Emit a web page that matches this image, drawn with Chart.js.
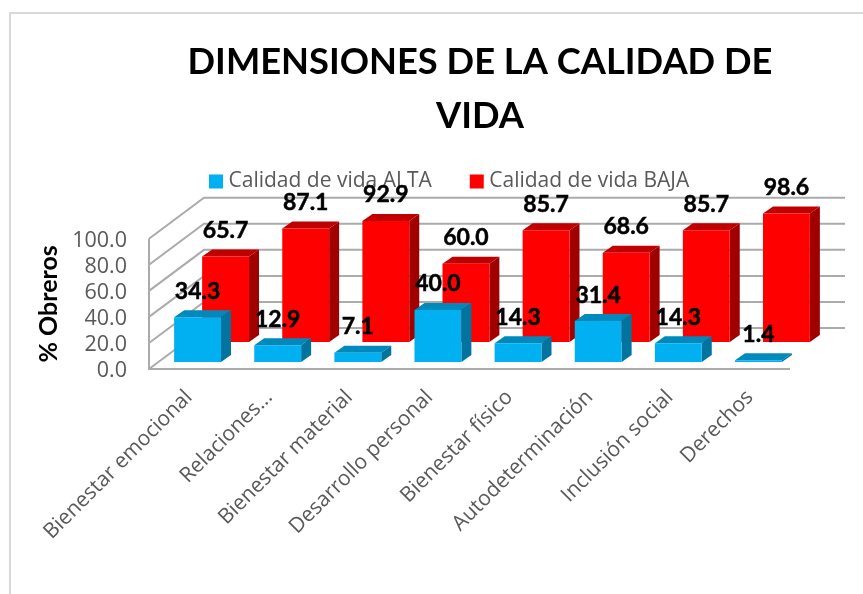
<!DOCTYPE html>
<html><head><meta charset="utf-8">
<style>html,body{margin:0;padding:0;background:#fff;overflow:hidden}
#wrap{position:absolute;left:0;top:0;width:863px;height:594px}
#frame{position:absolute;left:9px;top:12px;right:0;bottom:-4px;border-left:2px solid #D9D9D9;border-top:2px solid #D9D9D9}
canvas{position:absolute;left:0;top:0;filter:blur(0.4px)}</style>
<script src="https://cdn.jsdelivr.net/npm/chart.js@4/dist/chart.umd.js"></script>
</head><body><div id="wrap"><div id="frame"></div><canvas id="c" width="863" height="594"></canvas></div>
<script>
const categories=["Bienestar emocional","Relaciones...","Bienestar material","Desarrollo personal","Bienestar físico","Autodeterminación","Inclusión social","Derechos"];
const altaValues=[34.3,12.9,7.1,40.0,14.3,31.4,14.3,1.4];
const bajaValues=[65.7,87.1,92.9,60.0,85.7,68.6,85.7,98.6];
const titleLines=["DIMENSIONES DE LA CALIDAD DE","VIDA"];
const yTicks=[0,20,40,60,80,100];
const DEPTH={x:55,y:-41};
const OFFS=[{x:8.5,y:-7},{x:36.5,y:-27}];
const FACE={x:10,y:-7};
const SHADES=[{top:'#0089BB',side:'#00739E'},{top:'#C00000',side:'#A00000'}];

const threeD={
 id:'threeD',
 afterLayout(chart){
  const t=chart.titleBlock,l=chart.legend;
  if(t){const w=t.right-t.left,h=t.bottom-t.top;t.left=480-w/2;t.right=t.left+w;t.top=36;t.bottom=t.top+h;}
  if(l){const w=l.right-l.left,h=l.bottom-l.top;l.left=171;l.right=l.left+w;l.top=128;l.bottom=l.top+h;l.adjustHitBoxes&&l.adjustHitBoxes();}
 },
 beforeDatasetsDraw(chart){
  const {ctx,chartArea:a,scales:{y}}=chart;
  ctx.save();ctx.strokeStyle='#ABABAB';ctx.lineWidth=2;
  yTicks.forEach(v=>{
   const py=y.getPixelForValue(v);
   ctx.beginPath();ctx.moveTo(a.left,py);ctx.lineTo(a.left+DEPTH.x,py+DEPTH.y);
   ctx.lineTo(a.right+DEPTH.x,py+DEPTH.y);ctx.stroke();
  });
  ctx.beginPath();ctx.moveTo(a.left,y.getPixelForValue(100));ctx.lineTo(a.left,y.getPixelForValue(0));
  ctx.lineTo(a.right,y.getPixelForValue(0));ctx.stroke();
  ctx.restore();
 },
 beforeDatasetDraw(chart,{index}){
  const {ctx}=chart,o=OFFS[index],s=SHADES[index];
  ctx.save();ctx.translate(o.x,o.y);
  chart.getDatasetMeta(index).data.forEach(b=>{
   const {x,y,base,width}=b.getProps(['x','y','base','width']);
   const l=x-width/2,r=x+width/2;
   ctx.fillStyle=s.top;ctx.beginPath();ctx.moveTo(l,y);ctx.lineTo(l+FACE.x,y+FACE.y);ctx.lineTo(r+FACE.x,y+FACE.y);ctx.lineTo(r,y);ctx.closePath();ctx.fill();
   ctx.fillStyle=s.side;ctx.beginPath();ctx.moveTo(r,y);ctx.lineTo(r+FACE.x,y+FACE.y);ctx.lineTo(r+FACE.x,base+FACE.y);ctx.lineTo(r,base);ctx.closePath();ctx.fill();
  });
 },
 afterDatasetDraw(chart){chart.ctx.restore();},
 afterDatasetsDraw(chart){
  const {ctx}=chart;
  ctx.save();ctx.font='bold 23px Lato';ctx.fillStyle='#000';ctx.strokeStyle='#000';ctx.lineWidth=0.5;ctx.textAlign='center';ctx.textBaseline='middle';
  [1,0].forEach(i=>{
   const o=OFFS[i],vals=chart.data.datasets[i].data;
   chart.getDatasetMeta(i).data.forEach((b,k)=>{
    const s=vals[k].toFixed(1),px=b.x+o.x,py=b.y+o.y-26;
    ctx.fillText(s,px,py);ctx.strokeText(s,px,py);
   });
  });
  ctx.restore();
 }
};

new Chart(document.getElementById('c'),{
 type:'bar',
 data:{labels:categories,datasets:[
  {label:'Calidad de vida ALTA',data:altaValues,backgroundColor:'#00B0F0',grouped:false,barPercentage:0.585,categoryPercentage:1},
  {label:'Calidad de vida BAJA',data:bajaValues,backgroundColor:'#FF0000',grouped:false,barPercentage:0.585,categoryPercentage:1}
 ]},
 plugins:[threeD],
 options:{
  responsive:false,animation:false,
  layout:{padding:{left:34,right:73,top:0,bottom:0}},
  plugins:{
   title:{display:true,text:titleLines,color:'#000',font:{family:'Lato',weight:'bold',size:36.3,lineHeight:1.47},padding:{top:0,bottom:58}},
   legend:{display:true,position:'top',align:'start',
    labels:{boxWidth:4,boxHeight:4,padding:43,color:'#595959',font:{family:'Open Sans',size:21},
     generateLabels(chart){
      return Chart.defaults.plugins.legend.labels.generateLabels(chart).map(it=>({...it,strokeStyle:it.fillStyle,lineWidth:10}));
     }}},
   tooltip:{enabled:false}
  },
  scales:{
   x:{grid:{display:false},border:{display:false},
      ticks:{color:'#595959',font:{family:'Open Sans',size:21},maxRotation:45,minRotation:45,autoSkip:false,padding:8},
      afterFit(s){s.height=225;}},
   y:{min:0,max:100,grid:{display:false},border:{display:false},
      afterBuildTicks(s){s.ticks=yTicks.map(v=>({value:v}));},
      afterFit(s){s.width=115;},
      title:{display:true,text:'% Obreros',color:'#000',font:{family:'Lato',weight:'bold',size:25},padding:{top:0,bottom:0}},
      ticks:{color:'#595959',font:{family:'Open Sans',size:21.5},padding:14,autoSkip:false,labelOffset:2,callback:v=>v.toFixed(1)}}
  }
 }
});
</script></body></html>
